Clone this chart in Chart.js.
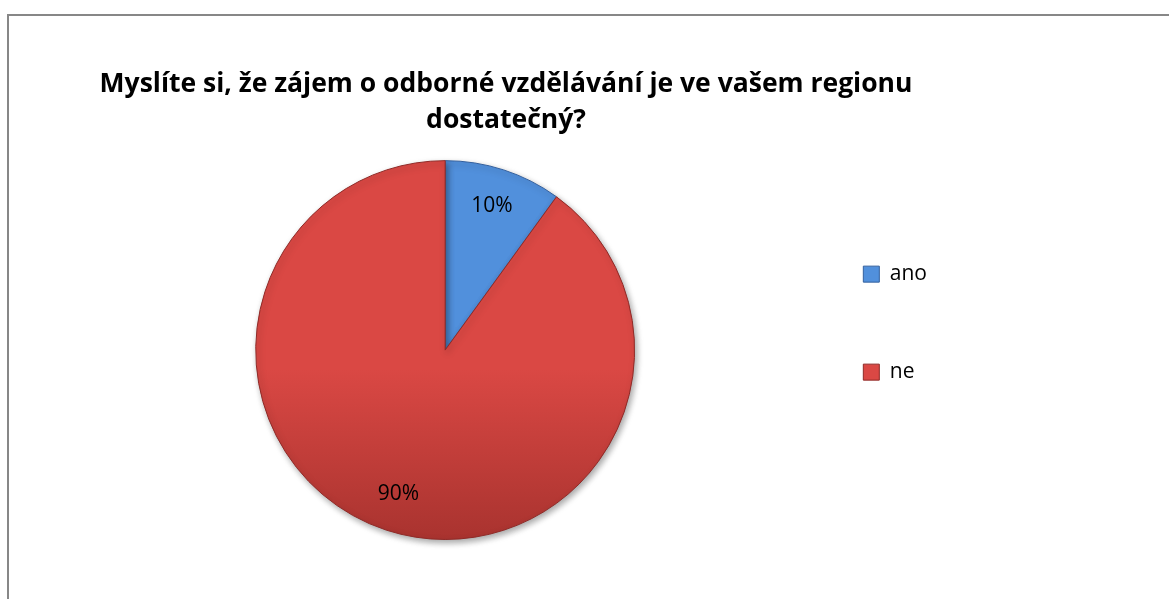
<!DOCTYPE html>
<html>
<head>
<meta charset="utf-8">
<script src="https://cdn.jsdelivr.net/npm/chart.js@4/dist/chart.umd.min.js"></script>
<style>
  html, body { margin: 0; padding: 0; background: #fff; }
  #wrap { position: relative; width: 1169px; height: 599px; overflow: hidden; }
  #frame { position: absolute; left: 7px; top: 14px; width: 1200px; height: 700px; border: 2px solid #878787; box-sizing: border-box; }
  #chart { position: absolute; left: 0; top: 0; }
</style>
</head>
<body>
<div id="wrap">
  <div id="frame"></div>
  <canvas id="chart" width="1169" height="599"></canvas>
</div>
<script>
// data
const chartTitle = ["Myslíte si, že zájem o odborné vzdělávání je ve vašem regionu", "dostatečný?"];
const labels = ["ano", "ne"];
const values = [10, 90];
const topColors = ["#5190dc", "#da4844"];
const bottomColors = ["#3f74bd", "#a9332f"];
const edgeColors = ["#33609e", "#8f2a27"];

function sliceFill(context) {
  const i = context.dataIndex;
  const area = context.chart.chartArea;
  if (!area) return topColors[i];
  const g = context.chart.ctx.createLinearGradient(0, area.top, 0, area.bottom);
  g.addColorStop(0, topColors[i]);
  g.addColorStop(0.55, topColors[i]);
  g.addColorStop(1, bottomColors[i]);
  return g;
}

// percentage labels inside the slices
const sliceLabels = {
  id: "sliceLabels",
  afterDatasetsDraw(chart) {
    const ctx = chart.ctx;
    const meta = chart.getDatasetMeta(0);
    const total = values.reduce((a, b) => a + b, 0);
    ctx.save();
    ctx.font = "21px 'Open Sans'";
    ctx.fillStyle = "#000";
    ctx.textAlign = "center";
    ctx.textBaseline = "middle";
    meta.data.forEach((arc, i) => {
      const p = arc.getProps(["x", "y", "startAngle", "endAngle", "outerRadius"], true);
      const mid = (p.startAngle + p.endAngle) / 2;
      const r = p.outerRadius * 0.8;
      const txt = Math.round(values[i] / total * 100) + "%";
      ctx.fillText(txt, p.x + Math.cos(mid) * r, p.y + Math.sin(mid) * r);
    });
    ctx.restore();
  }
};

// soft shadow under the pie
const pieShadow = {
  id: "pieShadow",
  beforeDatasetsDraw(chart) {
    const ctx = chart.ctx;
    ctx.save();
    ctx.shadowColor = "rgba(0,0,0,0.35)";
    ctx.shadowBlur = 6;
    ctx.shadowOffsetX = 2;
    ctx.shadowOffsetY = 3;
  },
  afterDatasetsDraw(chart) {
    chart.ctx.restore();
  }
};

const ctx = document.getElementById("chart").getContext("2d");
new Chart(ctx, {
  type: "pie",
  data: {
    labels: labels,
    datasets: [{
      data: values,
      backgroundColor: sliceFill,
      borderColor: edgeColors,
      borderWidth: 1
    }]
  },
  options: {
    responsive: false,
    animation: false,
    layout: { padding: { left: 75, right: 232, top: 0, bottom: 59 } },
    plugins: {
      tooltip: { enabled: false },
      title: {
        display: true,
        text: chartTitle,
        color: "#000",
        font: { family: "'Open Sans'", size: 26.5, weight: "bold", lineHeight: 1.38 },
        padding: { top: 65.75, bottom: 21.25 }
      },
      // empty spacer on the left so the pie sits left of the title centre
      subtitle: {
        display: true,
        position: "left",
        text: "",
        font: { size: 10 },
        padding: { top: 8.5, bottom: 8.5 }
      },
      legend: {
        position: "right",
        align: "start",
        fullSize: false,
        title: { display: true, text: "", font: { size: 10 }, padding: { top: 14.5, bottom: 0 } },
        labels: {
          color: "#000",
          font: { family: "'Open Sans'", size: 21 },
          boxWidth: 16,
          boxHeight: 16,
          padding: 77,
          generateLabels(chart) {
            return labels.map((t, i) => ({
              text: t,
              fillStyle: topColors[i],
              strokeStyle: edgeColors[i],
              fontColor: "#000",
              lineWidth: 1,
              hidden: false,
              index: i
            }));
          }
        }
      }
    }
  },
  plugins: [pieShadow, sliceLabels]
});
</script>
</body>
</html>
